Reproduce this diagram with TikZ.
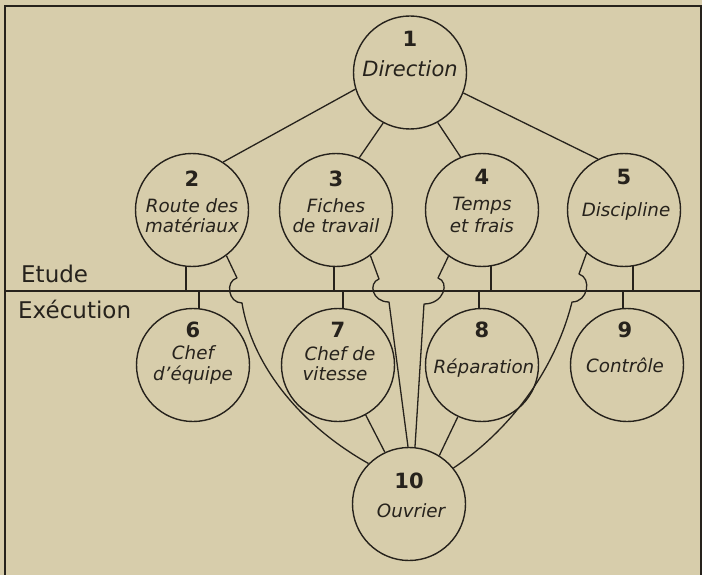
\documentclass[tikz,border=0pt]{standalone}
\usepackage{fontspec}
\setmainfont{DejaVu Sans}
\definecolor{paper}{RGB}{215,205,171}
\definecolor{ink}{RGB}{38,34,28}
\begin{document}
\begin{tikzpicture}[x=1pt,y=-1pt,
  circ/.style={circle, draw=ink, line width=1.4pt, minimum size=113pt, inner sep=0pt},
  num/.style={anchor=base, font=\bfseries\fontsize{21pt}{21pt}\selectfont, text=ink, inner sep=0pt},
  lab/.style={anchor=base, font=\itshape\fontsize{18.3pt}{18.3pt}\selectfont, text=ink, inner sep=0pt},
  biglab/.style={lab, font=\itshape\fontsize{21pt}{21pt}\selectfont},
  zone/.style={anchor=base west, font=\fontsize{23pt}{23pt}\selectfont, text=ink, inner sep=0pt},
  link/.style={draw=ink, line width=1.3pt, line join=round},
  frameline/.style={draw=ink, line width=1.6pt}]
\fill[paper] (0,0) rectangle (702,575);
\useasboundingbox (0,0) rectangle (702,575);

% frame and divider
\coordinate (fbl) at (5,575);
\coordinate (ftl) at (5,6);
\coordinate (ftr) at (701,6);
\coordinate (fbr) at (701,575);
\draw[frameline] (fbl) -- (ftl) -- (ftr) -- (fbr);
\coordinate (dl) at (5,291);
\coordinate (dr) at (701,291);
\draw[link] (dl) -- (dr);

\node[zone] (etude) at (21,282) {Etude};
\node[zone] (exec) at (18,318) {Exécution};

% circles
\node[circ] (n1) at (410,72.5) {};
\node[circ] (n2) at (192,210) {};
\node[circ] (n3) at (336,210) {};
\node[circ] (n4) at (482,210) {};
\node[circ] (n5) at (624,210) {};
\node[circ] (n6) at (193,365) {};
\node[circ] (n7) at (338,365) {};
\node[circ] (n8) at (482,365) {};
\node[circ] (n9) at (627,365) {};
\node[circ] (n10) at (409,504) {};

% texts
\node[num] (t1n) at (410,47) {1};
\node[biglab] (t1a) at (410,77) {Direction};
\node[num] (t2n) at (192,186) {2};
\node[lab] (t2a) at (192,212) {Route des};
\node[lab] (t2b) at (192,233) {matériaux};
\node[num] (t3n) at (336,186) {3};
\node[lab] (t3a) at (336,212) {Fiches};
\node[lab] (t3b) at (336,233) {de travail};
\node[num] (t4n) at (482,185) {4};
\node[lab] (t4a) at (482,211) {Temps};
\node[lab] (t4b) at (482,233) {et frais};
\node[num] (t5n) at (624,185) {5};
\node[lab] (t5a) at (626,217) {Discipline};
\node[num] (t6n) at (193,337) {6};
\node[lab] (t6a) at (193,359) {Chef};
\node[lab] (t6b) at (193,380) {d'équipe};
\node[num] (t7n) at (338,337) {7};
\node[lab] (t7a) at (340,360) {Chef de};
\node[lab] (t7b) at (335,380) {vitesse};
\node[num] (t8n) at (482,337) {8};
\node[lab] (t8a) at (484,373) {Réparation};
\node[num] (t9n) at (625,337) {9};
\node[lab] (t9a) at (625,372) {Contrôle};
\node[num] (t10n) at (409,488) {10};
\node[lab] (t10a) at (411,517) {Ouvrier};

% Direction to study services
\draw[link] (n1.197) -- (n2.57);
\draw[link] (n1.242) -- (n3.66);
\draw[link] (n1.299) -- (n4.112);
\draw[link] (n1.339) -- (n5.117);

% stubs across the divider
\draw[link] (n2.264) -- (n2.264 |- dl);
\draw[link] (n6.84 |- dl) -- (n6.84);
\draw[link] (n3.268) -- (n3.268 |- dl);
\draw[link] (n7.85 |- dl) -- (n7.85);
\draw[link] (n4.279) -- (n4.279 |- dl);
\draw[link] (n8.93 |- dl) -- (n8.93);
\draw[link] (n5.279) -- (n5.279 |- dl);
\draw[link] (n9.94 |- dl) -- (n9.94);

% direct links to Ouvrier
\draw[link] (n7.299) -- (n10.115);
\draw[link] (n8.245) -- (n10.58);

% links with hops over the divider
\draw[link] (n2.307) -- (237,278) .. controls (225,281) and (228,303) .. (242,303)
  .. controls (252,365) and (300,425) .. (n10.135);
\draw[link] (n3.307) -- (379,279) .. controls (368,283) and (372,302) .. (389,302) -- (n10.91);
\draw[link] (n4.234) -- (438,278) .. controls (450,282) and (444,304) .. (424,304) -- (n10.84);
\draw[link] (n5.229) -- (579,274) .. controls (592,278) and (588,302) .. (572,302)
  .. controls (555,370) and (510,430) .. (n10.39);
\end{tikzpicture}
\end{document}
